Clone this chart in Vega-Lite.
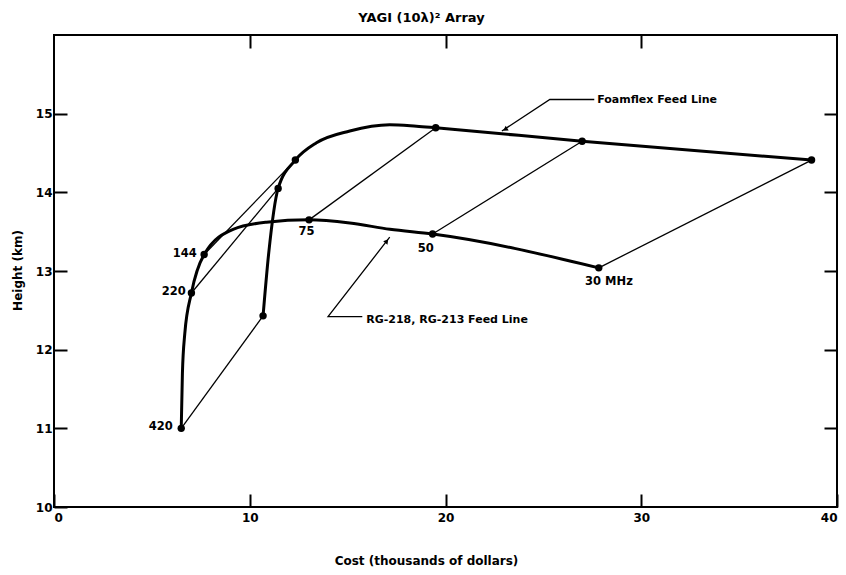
{
  "$schema": "https://vega.github.io/schema/vega-lite/v6.json",
  "width": 783,
  "height": 472,
  "autosize": "none",
  "padding": {"left": 54, "top": 35, "right": 9, "bottom": 68},
  "background": "white",
  "title": {"text": "YAGI (10λ)² Array", "anchor": "middle", "dx": -24, "offset": 9, "fontSize": 13, "font": "DejaVu Sans", "fontWeight": "bold", "color": "black"},
  "config": {
    "view": {"stroke": "black", "strokeWidth": 2},
    "axis": {"domain": false, "grid": false, "tickColor": "black", "tickSize": -13, "tickWidth": 2, "labelFont": "DejaVu Sans", "labelFontSize": 12, "labelFontWeight": "bold", "labelColor": "black", "titleFont": "DejaVu Sans", "titleFontSize": 12, "titleFontWeight": "bold", "titleColor": "black", "labelPadding": 16}
  },
  "datasets": {
    "curves": [
      {"series": "RG", "ord": 1, "cost": 6.5, "height": 11.0},
      {"series": "RG", "ord": 2, "cost": 6.56, "height": 11.7},
      {"series": "RG", "ord": 3, "cost": 6.68, "height": 12.2},
      {"series": "RG", "ord": 4, "cost": 7.02, "height": 12.72},
      {"series": "RG", "ord": 5, "cost": 7.67, "height": 13.21},
      {"series": "RG", "ord": 6, "cost": 9.15, "height": 13.53},
      {"series": "RG", "ord": 7, "cost": 10.85, "height": 13.62},
      {"series": "RG", "ord": 8, "cost": 13.03, "height": 13.65},
      {"series": "RG", "ord": 9, "cost": 15.11, "height": 13.61},
      {"series": "RG", "ord": 10, "cost": 17.16, "height": 13.53},
      {"series": "RG", "ord": 11, "cost": 19.34, "height": 13.47},
      {"series": "RG", "ord": 12, "cost": 27.83, "height": 13.04},
      {"series": "Foamflex", "ord": 1, "cost": 10.68, "height": 12.43},
      {"series": "Foamflex", "ord": 2, "cost": 10.97, "height": 13.23},
      {"series": "Foamflex", "ord": 3, "cost": 11.45, "height": 14.05},
      {"series": "Foamflex", "ord": 4, "cost": 12.33, "height": 14.41},
      {"series": "Foamflex", "ord": 5, "cost": 13.41, "height": 14.63},
      {"series": "Foamflex", "ord": 6, "cost": 15.11, "height": 14.78},
      {"series": "Foamflex", "ord": 7, "cost": 17.15, "height": 14.86},
      {"series": "Foamflex", "ord": 8, "cost": 18.52, "height": 14.84},
      {"series": "Foamflex", "ord": 9, "cost": 19.5, "height": 14.82},
      {"series": "Foamflex", "ord": 10, "cost": 26.98, "height": 14.65},
      {"series": "Foamflex", "ord": 11, "cost": 38.7, "height": 14.41}
    ],
    "points": [
      {"freq": "420", "line": "RG", "cost": 6.5, "height": 11.0},
      {"freq": "220", "line": "RG", "cost": 7.02, "height": 12.72},
      {"freq": "144", "line": "RG", "cost": 7.67, "height": 13.21},
      {"freq": "75", "line": "RG", "cost": 13.03, "height": 13.65},
      {"freq": "50", "line": "RG", "cost": 19.34, "height": 13.47},
      {"freq": "30", "line": "RG", "cost": 27.83, "height": 13.04},
      {"freq": "420", "line": "Foamflex", "cost": 10.68, "height": 12.43},
      {"freq": "220", "line": "Foamflex", "cost": 11.45, "height": 14.05},
      {"freq": "144", "line": "Foamflex", "cost": 12.33, "height": 14.41},
      {"freq": "75", "line": "Foamflex", "cost": 19.5, "height": 14.82},
      {"freq": "50", "line": "Foamflex", "cost": 26.98, "height": 14.65},
      {"freq": "30", "line": "Foamflex", "cost": 38.7, "height": 14.41}
    ],
    "leaders": [
      {"leader": "Foamflex", "ord": 1, "cost": 27.6, "height": 15.18},
      {"leader": "Foamflex", "ord": 2, "cost": 25.33, "height": 15.18},
      {"leader": "Foamflex", "ord": 3, "cost": 22.88, "height": 14.78},
      {"leader": "RG", "ord": 1, "cost": 15.75, "height": 12.42},
      {"leader": "RG", "ord": 2, "cost": 14.0, "height": 12.42},
      {"leader": "RG", "ord": 3, "cost": 17.15, "height": 13.43}
    ],
    "arrowFoam": [{"cost": 23.05, "height": 14.80}],
    "arrowRG": [{"cost": 17.0, "height": 13.38}],
    "labelsLeft": [
      {"label": "420", "cost": 6.07, "height": 11.02},
      {"label": "220", "cost": 6.73, "height": 12.73},
      {"label": "144", "cost": 7.29, "height": 13.21}
    ],
    "labelsBelow": [
      {"label": "75", "cost": 12.9, "height": 13.49},
      {"label": "50", "cost": 18.99, "height": 13.28},
      {"label": "30 MHz", "cost": 28.35, "height": 12.86}
    ],
    "labelsLeader": [
      {"label": "Foamflex Feed Line", "cost": 27.75, "height": 15.17},
      {"label": "RG-218, RG-213 Feed Line", "cost": 15.95, "height": 12.38}
    ]
  },
  "resolve": {"axis": {"x": "independent", "y": "independent"}},
  "layer": [
    {
      "data": {"name": "points"},
      "mark": {"type": "point", "opacity": 0},
      "encoding": {
        "x": {"field": "cost", "type": "quantitative", "scale": {"domain": [0, 40], "nice": false, "zero": false}, "axis": {"orient": "top", "values": [10, 20, 30], "labels": false, "title": null}},
        "y": {"field": "height", "type": "quantitative", "scale": {"domain": [10, 16], "nice": false, "zero": false}, "axis": {"orient": "right", "values": [11, 12, 13, 14, 15], "labels": false, "title": null}}
      }
    },
    {
      "data": {"name": "curves"},
      "mark": {"type": "line", "interpolate": "monotone", "color": "black", "strokeWidth": 3},
      "encoding": {
        "x": {"field": "cost", "type": "quantitative", "scale": {"domain": [0, 40], "nice": false, "zero": false}, "axis": {"orient": "bottom", "values": [0, 10, 20, 30, 40], "labelPadding": 18, "title": "Cost (thousands of dollars)", "titleX": 372, "titleY": 48}},
        "y": {"field": "height", "type": "quantitative", "scale": {"domain": [10, 16], "nice": false, "zero": false}, "axis": {"orient": "left", "values": [10, 11, 12, 13, 14, 15], "labelPadding": 15, "title": "Height (km)", "titleX": -30, "titleY": 235}},
        "detail": {"field": "series"},
        "order": {"field": "ord"}
      }
    },
    {
      "data": {"name": "points"},
      "mark": {"type": "line", "color": "black", "strokeWidth": 1.3},
      "encoding": {
        "x": {"field": "cost", "type": "quantitative", "axis": null},
        "y": {"field": "height", "type": "quantitative", "axis": null},
        "detail": {"field": "freq"}
      }
    },
    {
      "data": {"name": "points"},
      "mark": {"type": "point", "filled": true, "color": "black", "opacity": 1, "size": 55},
      "encoding": {
        "x": {"field": "cost", "type": "quantitative", "axis": null},
        "y": {"field": "height", "type": "quantitative", "axis": null}
      }
    },
    {
      "data": {"name": "leaders"},
      "mark": {"type": "line", "color": "black", "strokeWidth": 1.3},
      "encoding": {
        "x": {"field": "cost", "type": "quantitative", "axis": null},
        "y": {"field": "height", "type": "quantitative", "axis": null},
        "detail": {"field": "leader"},
        "order": {"field": "ord"}
      }
    },
    {
      "data": {"name": "arrowFoam"},
      "mark": {"type": "point", "shape": "triangle-up", "filled": true, "color": "black", "opacity": 1, "size": 30, "angle": 237},
      "encoding": {
        "x": {"field": "cost", "type": "quantitative", "axis": null},
        "y": {"field": "height", "type": "quantitative", "axis": null}
      }
    },
    {
      "data": {"name": "arrowRG"},
      "mark": {"type": "point", "shape": "triangle-up", "filled": true, "color": "black", "opacity": 1, "size": 30, "angle": 38},
      "encoding": {
        "x": {"field": "cost", "type": "quantitative", "axis": null},
        "y": {"field": "height", "type": "quantitative", "axis": null}
      }
    },
    {
      "data": {"name": "labelsLeft"},
      "mark": {"type": "text", "align": "right", "baseline": "middle", "font": "DejaVu Sans", "fontSize": 11.5, "fontWeight": "bold", "color": "black"},
      "encoding": {
        "x": {"field": "cost", "type": "quantitative", "axis": null},
        "y": {"field": "height", "type": "quantitative", "axis": null},
        "text": {"field": "label"}
      }
    },
    {
      "data": {"name": "labelsBelow"},
      "mark": {"type": "text", "align": "center", "baseline": "middle", "font": "DejaVu Sans", "fontSize": 11.5, "fontWeight": "bold", "color": "black"},
      "encoding": {
        "x": {"field": "cost", "type": "quantitative", "axis": null},
        "y": {"field": "height", "type": "quantitative", "axis": null},
        "text": {"field": "label"}
      }
    },
    {
      "data": {"name": "labelsLeader"},
      "mark": {"type": "text", "align": "left", "baseline": "middle", "font": "DejaVu Sans", "fontSize": 11, "fontWeight": "bold", "color": "black"},
      "encoding": {
        "x": {"field": "cost", "type": "quantitative", "axis": null},
        "y": {"field": "height", "type": "quantitative", "axis": null},
        "text": {"field": "label"}
      }
    }
  ]
}
